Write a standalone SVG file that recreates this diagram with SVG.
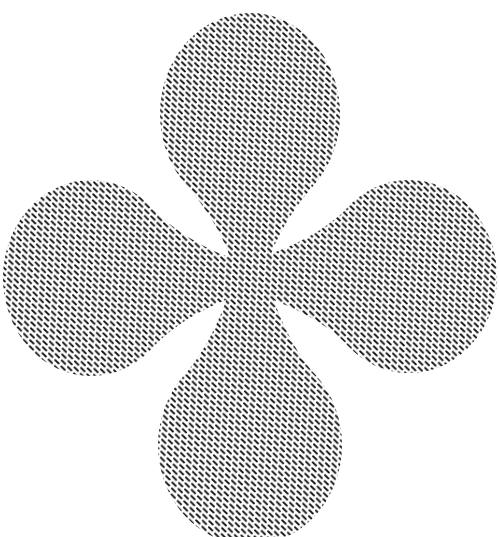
<svg xmlns="http://www.w3.org/2000/svg" width="499" height="537" viewBox="0 0 499 537">
  <defs>
    <pattern id="hatch" patternUnits="userSpaceOnUse" width="6.6" height="6" patternTransform="rotate(4)">
      <path d="M0.9,1.3 L4.7,4.5" stroke="#111111" stroke-width="1.8" stroke-linecap="round" fill="none"/>
    </pattern>
    <clipPath id="clover">
      <path id="lobe-top" d="M234,276 C232,250 210.7,212.7 186.4,185.4 A90,101 0 1 1 313.6,185.4 C289.3,212.7 268,250 266,276 Z"/>
      <path id="lobe-bottom" d="M234,268 C232,294 209.8,347.3 185,374.3 A92,100 0 1 0 315,374.3 C290.2,347.3 268,294 266,268 Z"/>
      <path id="lobe-right" d="M243,260.5 C269,258.5 323,234.4 346.8,208.3 A88,96.5 0 1 1 346.8,344.7 C323,318.6 269,294.5 243,292.5 Z"/>
      <path id="lobe-left" d="M251,262 C225,260 177,235.2 153.2,208.7 A88,98 0 1 0 153.2,347.3 C177,320.8 225,296 251,294 Z"/>
    </clipPath>
  </defs>
  <rect width="499" height="537" fill="#ffffff"/>
  <g id="clover-shape">
    <rect width="499" height="537" fill="url(#hatch)" clip-path="url(#clover)"/>
  </g>
</svg>
